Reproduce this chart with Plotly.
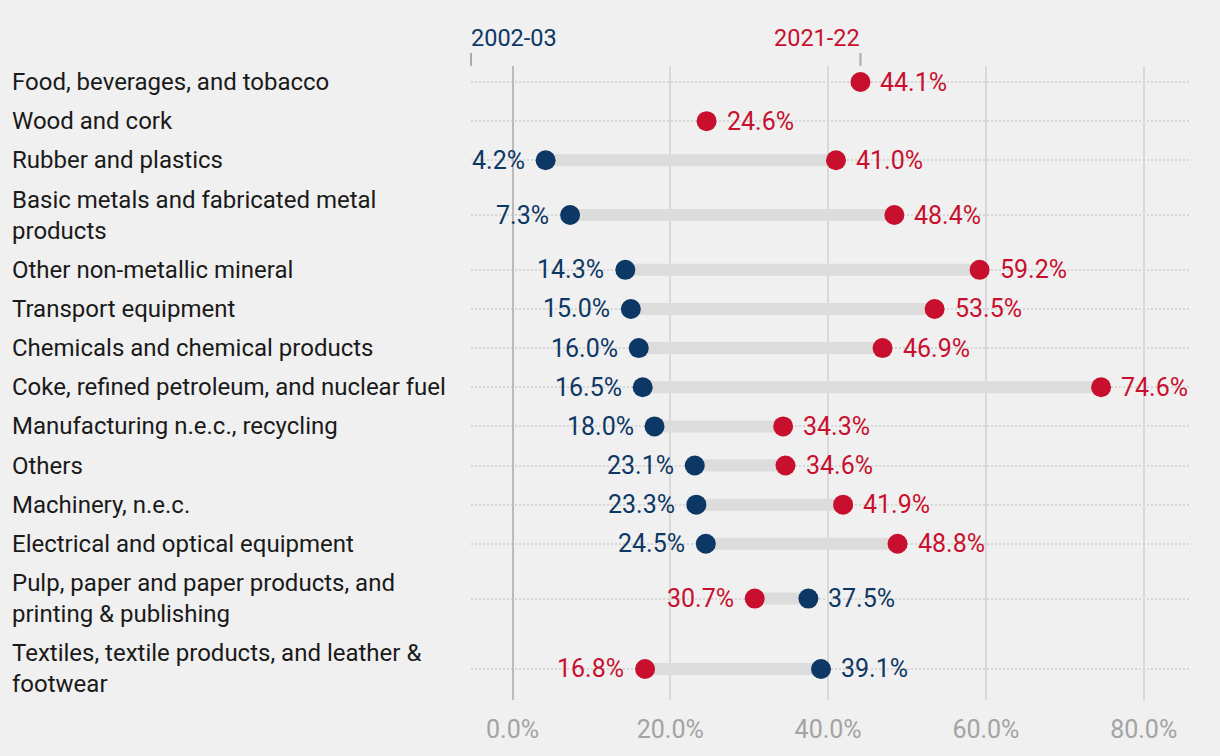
import plotly.graph_objects as go

# ---------------- data ----------------
categories = [
    "Food, beverages, and tobacco",
    "Wood and cork",
    "Rubber and plastics",
    "Basic metals and fabricated metal<br>products",
    "Other non-metallic mineral",
    "Transport equipment",
    "Chemicals and chemical products",
    "Coke, refined petroleum, and nuclear fuel",
    "Manufacturing n.e.c., recycling",
    "Others",
    "Machinery, n.e.c.",
    "Electrical and optical equipment",
    "Pulp, paper and paper products, and<br>printing & publishing",
    "Textiles, textile products, and leather &<br>footwear",
]
share_2002_03 = [None, None, 4.2, 7.3, 14.3, 15.0, 16.0, 16.5, 18.0, 23.1, 23.3, 24.5, 37.5, 39.1]
share_2021_22 = [44.1, 24.6, 41.0, 48.4, 59.2, 53.5, 46.9, 74.6, 34.3, 34.6, 41.9, 48.8, 30.7, 16.8]
x_tick_values = [0, 20, 40, 60, 80]
x_tick_labels = ["0.0%", "20.0%", "40.0%", "60.0%", "80.0%"]
series_names = ["2002-03", "2021-22"]

# ---------------- style ----------------
BLUE = "#0d3764"
RED = "#c8102e"
BG = "#f0f0f0"
FONT = "Roboto"
W, H = 1220, 756
ML, MR, MT, MB = 471, 31, 66, 56
PLOT_H = H - MT - MB
X_RANGE = [-5.26, 85.74]

# row layout: rows grow with the number of label lines
SINGLE_ROW, DOUBLE_ROW = 39.14, 70.4
centers = []
pos = 16.0
prev_h = None
for c in categories:
    h = DOUBLE_ROW if "<br>" in c else SINGLE_ROW
    if prev_h is not None:
        pos += prev_h / 2 + h / 2
    centers.append(pos)
    prev_h = h

fig = go.Figure()

# connectors
cx, cy = [], []
for a, b, y in zip(share_2002_03, share_2021_22, centers):
    if a is not None and b is not None:
        cx += [a, b, None]
        cy += [y, y, None]
fig.add_trace(go.Scatter(x=cx, y=cy, mode="lines",
                         line=dict(color="#dcdcdc", width=12),
                         hoverinfo="skip", showlegend=False))

# dots
fig.add_trace(go.Scatter(x=share_2002_03, y=centers, mode="markers", name=series_names[0],
                         marker=dict(color=BLUE, size=20), showlegend=False))
fig.add_trace(go.Scatter(x=share_2021_22, y=centers, mode="markers", name=series_names[1],
                         marker=dict(color=RED, size=20), showlegend=False))

annotations = []
# category labels
for c, y in zip(categories, centers):
    annotations.append(dict(
        text=c, xref="paper", x=(10 - ML) / (W - ML - MR), xanchor="left",
        yref="y", y=y, yanchor="middle", align="left", showarrow=False,
        font=dict(family=FONT, size=24, color="#1a1a1a")))

# value labels
for a, b, y in zip(share_2002_03, share_2021_22, centers):
    for v, other, col in ((a, b, BLUE), (b, a, RED)):
        if v is None:
            continue
        right = other is None or v >= other
        annotations.append(dict(
            text=f"{v:.1f}%", x=v, y=y, xref="x", yref="y",
            xanchor="left" if right else "right", xshift=18 if right else -19,
            yanchor="middle", showarrow=False,
            font=dict(family=FONT, size=25, color=col)))

# series headers
hdr_y = (H - MB - 38) / PLOT_H
annotations.append(dict(text=series_names[0], xref="paper", x=0, xanchor="left",
                        xshift=-2, yref="paper", y=hdr_y, yanchor="middle", showarrow=False,
                        font=dict(family=FONT, size=23.5, color=BLUE)))
annotations.append(dict(text=series_names[1], xref="x", x=share_2021_22[0], xanchor="right",
                        xshift=2, yref="paper", y=hdr_y, yanchor="middle", showarrow=False,
                        font=dict(family=FONT, size=23.5, color=RED)))

tick_top = (H - MB - 53) / PLOT_H
shapes = [
    dict(type="line", xref="paper", x0=0, x1=0, yref="paper", y0=1, y1=tick_top,
         line=dict(color="#aaaaaa", width=2)),
    dict(type="line", xref="x", x0=share_2021_22[0], x1=share_2021_22[0], yref="paper",
         y0=1, y1=tick_top, line=dict(color="#aaaaaa", width=2)),
]

fig.update_layout(
    width=W, height=H,
    margin=dict(l=ML, r=MR, t=MT, b=MB),
    paper_bgcolor=BG, plot_bgcolor=BG,
    annotations=annotations, shapes=shapes,
    showlegend=False,
    xaxis=dict(range=X_RANGE, tickvals=x_tick_values, ticktext=x_tick_labels,
               showgrid=True, gridcolor="#d9d9d9", gridwidth=2,
               zeroline=True, zerolinecolor="#bbbbbb", zerolinewidth=2,
               showline=False, ticks="outside", ticklen=7, tickcolor=BG,
               tickfont=dict(family=FONT, size=25, color="#a3a3a3"),
               fixedrange=True),
    yaxis=dict(range=[PLOT_H, 0], tickvals=centers, showticklabels=False,
               showgrid=True, gridcolor="#d6d6d6", gridwidth=2, griddash="2px,2px",
               zeroline=False, showline=False, ticks="", fixedrange=True),
)

fig.write_html("out.html", config={"displayModeBar": False},
               post_script="document.body.style.margin='0';document.body.style.background='#f0f0f0';")
